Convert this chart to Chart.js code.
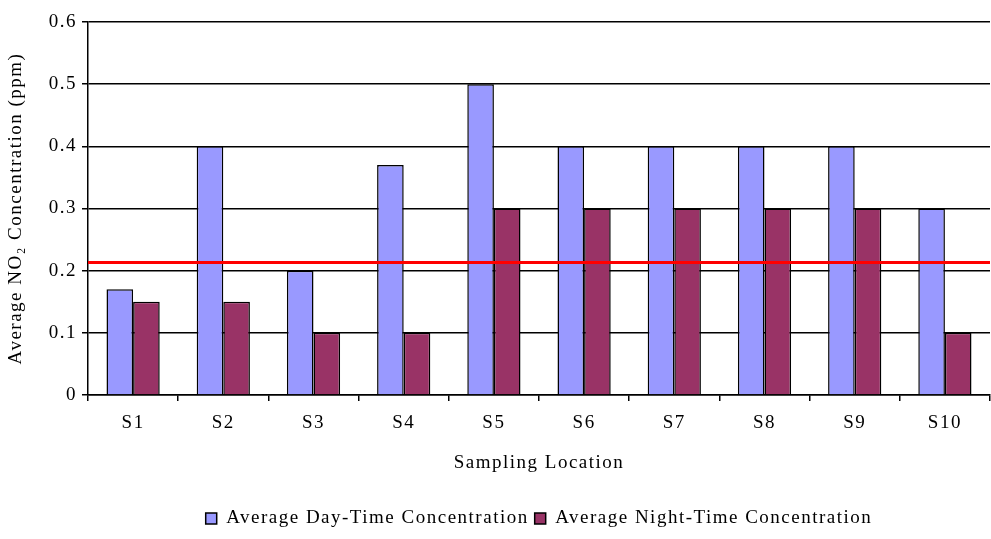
<!DOCTYPE html>
<html>
<head>
<meta charset="utf-8">
<script src="https://cdn.jsdelivr.net/npm/chart.js@4/dist/chart.umd.min.js"></script>
<style>
  html, body { margin: 0; padding: 0; background: #fff; }
  #wrap { width: 991px; height: 539px; position: relative; }
</style>
</head>
<body>
<div id="wrap"><canvas id="chart" width="991" height="539"></canvas></div>
<script>
// sampling sites and measured averages (ppm)
const locations = ["S1", "S2", "S3", "S4", "S5", "S6", "S7", "S8", "S9", "S10"];
const dayTime = [0.17, 0.4, 0.2, 0.37, 0.5, 0.4, 0.4, 0.4, 0.4, 0.3];
const nightTime = [0.15, 0.15, 0.1, 0.1, 0.3, 0.3, 0.3, 0.3, 0.3, 0.1];
const yTicks = [0, 0.1, 0.2, 0.3, 0.4, 0.5, 0.6];
const standardLimit = 0.213;

const FONT = "'Liberation Serif', 'Times New Roman', serif";
const FONT_SIZE = 19;
const SPACING = "1.5px";

// the original uses loosely tracked serif text
const tracking = {
  id: "tracking",
  beforeLayout(chart) { chart.ctx.letterSpacing = SPACING; },
  beforeDraw(chart) { chart.ctx.letterSpacing = SPACING; },
};

// red horizontal limit line across the whole plot area
const limitLine = {
  id: "limitLine",
  afterDatasetsDraw(chart) {
    const { ctx, chartArea, scales } = chart;
    const y = scales.y.getPixelForValue(standardLimit);
    ctx.save();
    ctx.strokeStyle = "#ff0000";
    ctx.lineWidth = 3;
    ctx.beginPath();
    ctx.moveTo(chartArea.left, y);
    ctx.lineTo(chartArea.right, y);
    ctx.stroke();
    ctx.restore();
  },
};

new Chart(document.getElementById("chart"), {
  type: "bar",
  data: {
    labels: locations,
    datasets: [
      {
        label: "Average Day-Time Concentration",
        data: dayTime,
        backgroundColor: "#9999ff",
        borderColor: "#000000",
        borderWidth: 1.5,
        barPercentage: 1.0,
        categoryPercentage: 0.59,
      },
      {
        label: "Average Night-Time Concentration",
        data: nightTime,
        backgroundColor: "#993366",
        borderColor: "#000000",
        borderWidth: 1.5,
        barPercentage: 1.0,
        categoryPercentage: 0.59,
      },
    ],
  },
  options: {
    responsive: false,
    animation: false,
    layout: { padding: { top: 22, right: 1, left: 0, bottom: 1 } },
    scales: {
      x: {
        offset: true,
        afterFit: (axis) => { axis.height = 108; },
        grid: {
          offset: true,
          drawOnChartArea: false,
          drawTicks: true,
          tickLength: 6,
          color: "#000",
          lineWidth: 1.5,
        },
        border: { color: "#000", width: 1.5 },
        ticks: {
          color: "#000",
          font: { family: FONT, size: FONT_SIZE },
          padding: 11,
        },
        title: {
          display: true,
          text: "Sampling Location",
          color: "#000",
          font: { family: FONT, size: FONT_SIZE },
          padding: { top: 0, bottom: 29 },
        },
      },
      y: {
        min: 0,
        max: 0.6,
        afterFit: (axis) => { axis.width = 88; },
        afterBuildTicks: (axis) => {
          axis.ticks = yTicks.map((v) => ({ value: v }));
        },
        grid: {
          color: "#000",
          lineWidth: 1.5,
          drawTicks: true,
          tickLength: 6,
        },
        border: { color: "#000", width: 1.5 },
        ticks: {
          color: "#000",
          font: { family: FONT, size: FONT_SIZE },
          padding: 5,
          callback: (v) => String(v),
        },
        title: {
          display: true,
          text: "Average NO\u2082 Concentration (ppm)",
          color: "#000",
          font: { family: FONT, size: FONT_SIZE },
          padding: { top: 5, bottom: 0 },
        },
      },
    },
    plugins: {
      legend: {
        position: "bottom",
        fullSize: false,
        labels: {
          color: "#000",
          font: { family: FONT, size: FONT_SIZE },
          boxWidth: 11,
          boxHeight: 11,
          padding: 6,
        },
      },
      tooltip: { enabled: false },
    },
  },
  plugins: [tracking, limitLine],
});
</script>
</body>
</html>
